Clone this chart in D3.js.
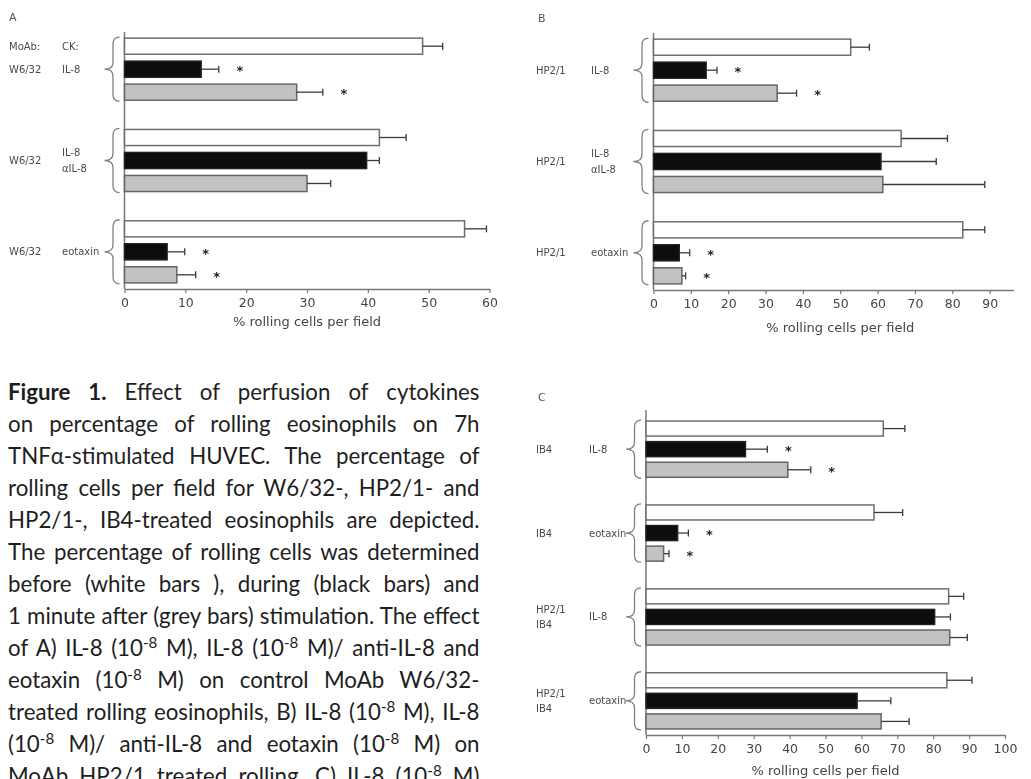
<!DOCTYPE html>
<html>
<head>
<meta charset="utf-8">
<script src="https://cdn.jsdelivr.net/npm/d3@7"></script>
<style>
  html, body { margin: 0; padding: 0; background: #fff; }
  svg { display: block; }
</style>
</head>
<body>
<svg id="fig" width="1031" height="779"></svg>
<script>
// ---------- data: % rolling eosinophils per field ----------
const seriesKeys = ["before", "during", "after"];

// Panel A – control MoAb W6/32
const aMoAb = [["W6/32"], ["W6/32"], ["W6/32"]];
const aStim = [["IL-8"], ["IL-8", "αIL-8"], ["eotaxin"]];
const aBefore = [49.0, 41.9, 55.9];
const aBeforeErr = [3.3, 4.4, 3.6];
const aDuring = [12.6, 39.8, 7.0];
const aDuringErr = [2.9, 2.1, 2.9];
const aAfter = [28.3, 30.0, 8.6];
const aAfterErr = [4.3, 3.9, 3.1];
const aDuringSig = [true, false, true];
const aAfterSig = [true, false, true];
const aTicks = [0, 10, 20, 30, 40, 50, 60];

// Panel B – HP2/1
const bMoAb = [["HP2/1"], ["HP2/1"], ["HP2/1"]];
const bStim = [["IL-8"], ["IL-8", "αIL-8"], ["eotaxin"]];
const bBefore = [52.8, 66.3, 82.8];
const bBeforeErr = [5.0, 12.4, 5.9];
const bDuring = [14.1, 60.9, 6.9];
const bDuringErr = [2.9, 14.8, 2.8];
const bAfter = [33.1, 61.4, 7.6];
const bAfterErr = [5.2, 27.3, 1.0];
const bDuringSig = [true, false, true];
const bAfterSig = [true, false, true];
const bTicks = [0, 10, 20, 30, 40, 50, 60, 70, 80, 90];

// Panel C – IB4 and HP2/1 + IB4
const cMoAb = [["IB4"], ["IB4"], ["HP2/1", "IB4"], ["HP2/1", "IB4"]];
const cStim = [["IL-8"], ["eotaxin"], ["IL-8"], ["eotaxin"]];
const cBefore = [66.1, 63.5, 84.3, 83.8];
const cBeforeErr = [6.0, 8.0, 4.2, 7.0];
const cDuring = [27.7, 8.8, 80.4, 58.8];
const cDuringErr = [6.1, 3.0, 4.4, 9.4];
const cAfter = [39.5, 4.9, 84.6, 65.5];
const cAfterErr = [6.4, 1.5, 4.9, 7.8];
const cDuringSig = [true, true, false, false];
const cAfterSig = [true, true, false, false];
const cTicks = [0, 10, 20, 30, 40, 50, 60, 70, 80, 90, 100];

const axisTitle = "% rolling cells per field";

// ---------- figure caption (justified block) ----------
const captionLines = [
  [{ t: "Figure 1.", b: true }, { t: " Effect of perfusion of cytokines" }],
  [{ t: "on percentage of rolling eosinophils on 7h" }],
  [{ t: "TNFα-stimulated HUVEC. The percentage of" }],
  [{ t: "rolling cells per field for W6/32-, HP2/1- and" }],
  [{ t: "HP2/1-, IB4-treated eosinophils are depicted." }],
  [{ t: "The percentage of rolling cells was determined" }],
  [{ t: "before (white bars ), during (black bars) and" }],
  [{ t: "1 minute after (grey bars) stimulation. The effect" }],
  [{ t: "of A) IL-8 (10" }, { t: "-8", sup: true }, { t: " M), IL-8 (10" }, { t: "-8", sup: true }, { t: " M)/ anti-IL-8 and" }],
  [{ t: "eotaxin (10" }, { t: "-8", sup: true }, { t: " M) on control MoAb W6/32-" }],
  [{ t: "treated rolling eosinophils, B) IL-8 (10" }, { t: "-8", sup: true }, { t: " M), IL-8" }],
  [{ t: "(10" }, { t: "-8", sup: true }, { t: " M)/ anti-IL-8 and eotaxin (10" }, { t: "-8", sup: true }, { t: " M) on" }],
  [{ t: "MoAb HP2/1 treated rolling. C) IL-8 (10" }, { t: "-8", sup: true }, { t: " M)" }]
];

// ---------- drawing ----------
const svg = d3.select("#fig");
const defs = svg.append("defs");
defs.append("filter").attr("id", "soft")
  .attr("x", "-5%").attr("y", "-5%").attr("width", "110%").attr("height", "110%")
  .append("feGaussianBlur").attr("stdDeviation", 0.75);
defs.append("clipPath").attr("id", "clipB")
  .append("rect").attr("x", 480).attr("y", 0).attr("width", 534).attr("height", 400);

const fills = { before: "#ffffff", during: "#0a0a0a", after: "#c2c2c2" };
const strokes = { before: "#6e6e6e", during: "#222", after: "#666" };
const LABEL_FONT = "DejaVu Sans, Liberation Sans, sans-serif";
const LABEL_INK = "#4a4a4a";

function buildGroups(moab, stim, vals, errs, sigD, sigA) {
  return moab.map((m, i) => ({
    id: "g" + i, moab: m, stim: stim[i],
    bars: [
      { key: "before", v: vals[0][i], e: errs[0][i], sig: false },
      { key: "during", v: vals[1][i], e: errs[1][i], sig: sigD[i] },
      { key: "after",  v: vals[2][i], e: errs[2][i], sig: sigA[i] }
    ]
  }));
}

function bracePath(xTip, xEnd, y0, y1) {
  const ym = (y0 + y1) / 2, xm = (xTip + xEnd) / 2 + 1;
  const r = 7;
  const p = d3.path();
  p.moveTo(xEnd, y0);
  p.quadraticCurveTo(xm, y0, xm, y0 + r);
  p.lineTo(xm, ym - r);
  p.quadraticCurveTo(xm, ym, xTip, ym);
  p.quadraticCurveTo(xm, ym, xm, ym + r);
  p.lineTo(xm, y1 - r);
  p.quadraticCurveTo(xm, y1, xEnd, y1);
  return p.toString();
}

function drawPanel(cfg) {
  const g = svg.append("g").attr("filter", "url(#soft)");
  const root = cfg.clip ? g.append("g").attr("clip-path", cfg.clip) : g;

  const x = d3.scaleLinear().domain([0, cfg.max]).range([cfg.x0, cfg.x1]);
  const y = d3.scaleBand().domain(cfg.groups.map(d => d.id))
    .range([cfg.yTop, cfg.yBot]).paddingInner(cfg.padG).paddingOuter(cfg.padO);
  const yi = d3.scaleBand().domain(seriesKeys).range([0, y.bandwidth()]).paddingInner(cfg.padB);

  // panel letter
  root.append("text").attr("x", cfg.letterX).attr("y", cfg.letterY)
    .attr("font-family", LABEL_FONT).attr("font-size", 11).attr("fill", "#555").text(cfg.letter);

  // x axis
  const ax = root.append("g").attr("transform", `translate(0,${cfg.axisY})`)
    .call(d3.axisBottom(x).tickValues(cfg.ticks).tickSize(4).tickSizeOuter(0).tickPadding(5));
  ax.select(".domain").attr("stroke", "#777").attr("stroke-width", 1.5);
  ax.selectAll(".tick line").attr("stroke", "#777").attr("stroke-width", 1.2);
  ax.selectAll(".tick text").attr("font-family", LABEL_FONT).attr("font-size", 12.5).attr("fill", "#444");

  root.append("text").attr("x", (cfg.x0 + cfg.x1) / 2).attr("y", cfg.axisY + cfg.titleOff)
    .attr("text-anchor", "middle").attr("font-family", LABEL_FONT).attr("font-size", 13)
    .attr("fill", "#444").text(axisTitle);

  // y axis line
  root.append("line").attr("x1", cfg.x0).attr("x2", cfg.x0)
    .attr("y1", cfg.yAxisTop).attr("y2", cfg.axisY)
    .attr("stroke", "#777").attr("stroke-width", 1.5);

  const grp = root.selectAll("g.grp").data(cfg.groups).join("g").attr("class", "grp")
    .attr("transform", d => `translate(0,${y(d.id)})`);

  // bars
  grp.selectAll("rect").data(d => d.bars).join("rect")
    .attr("x", x(0)).attr("y", b => yi(b.key))
    .attr("width", b => x(b.v) - x(0)).attr("height", yi.bandwidth())
    .attr("fill", b => fills[b.key]).attr("stroke", b => strokes[b.key]).attr("stroke-width", 1.5);

  // error bars
  const eb = grp.selectAll("g.err").data(d => d.bars).join("g").attr("class", "err")
    .attr("transform", b => `translate(0,${yi(b.key) + yi.bandwidth() / 2})`);
  eb.append("line").attr("x1", b => x(b.v)).attr("x2", b => x(b.v + b.e))
    .attr("y1", 0).attr("y2", 0).attr("stroke", "#3a3a3a").attr("stroke-width", 1.3);
  eb.append("line").attr("x1", b => x(b.v + b.e)).attr("x2", b => x(b.v + b.e))
    .attr("y1", -3.5).attr("y2", 3.5).attr("stroke", "#3a3a3a").attr("stroke-width", 1.3);

  // significance marks
  eb.filter(b => b.sig).append("text")
    .attr("x", b => x(b.v + b.e) + 21).attr("y", 6).attr("text-anchor", "middle")
    .attr("font-family", LABEL_FONT).attr("font-size", 13).attr("font-weight", 700)
    .attr("fill", "#222").text("*");

  // braces
  grp.append("path").attr("d", bracePath(cfg.x0 - 20, cfg.x0 - 5, -1, y.bandwidth() + 1))
    .attr("fill", "none").attr("stroke", "#808080").attr("stroke-width", 1.3);

  // group labels
  const mid = y.bandwidth() / 2;
  const labelSet = (sel, key, xpos, gap) => sel.each(function (d) {
    const lines = d[key];
    const n = lines.length;
    lines.forEach((t, k) => {
      d3.select(this).append("text").attr("x", xpos)
        .attr("y", mid + (k - (n - 1) / 2) * gap + 3.5)
        .attr("font-family", LABEL_FONT).attr("font-size", 10).attr("fill", LABEL_INK).text(t);
    });
  });
  labelSet(grp, "moab", cfg.col1, 15);
  labelSet(grp, "stim", cfg.col2, 16);

  if (cfg.header) {
    const hy = y(cfg.groups[0].id) + yi("before") + yi.bandwidth() / 2 + 3.5;
    root.append("text").attr("x", cfg.col1).attr("y", hy).attr("font-family", LABEL_FONT)
      .attr("font-size", 10).attr("fill", LABEL_INK).text(cfg.header[0]);
    root.append("text").attr("x", cfg.col2).attr("y", hy).attr("font-family", LABEL_FONT)
      .attr("font-size", 10).attr("fill", LABEL_INK).text(cfg.header[1]);
  }
}

drawPanel({
  letter: "A", letterX: 9, letterY: 21, header: ["MoAb:", "CK:"],
  groups: buildGroups(aMoAb, aStim, [aBefore, aDuring, aAfter], [aBeforeErr, aDuringErr, aAfterErr], aDuringSig, aAfterSig),
  max: 60, ticks: aTicks, x0: 124.5, x1: 489.5,
  yTop: 29, yBot: 292, padG: 0.32, padO: 0.1, padB: 0.3,
  axisY: 289, yAxisTop: 32, titleOff: 37, col1: 9, col2: 62
});

drawPanel({
  letter: "B", letterX: 538, letterY: 22, clip: "url(#clipB)",
  groups: buildGroups(bMoAb, bStim, [bBefore, bDuring, bAfter], [bBeforeErr, bDuringErr, bAfterErr], bDuringSig, bAfterSig),
  max: 100, ticks: bTicks, x0: 653.5, x1: 1027,
  yTop: 30, yBot: 293, padG: 0.32, padO: 0.1, padB: 0.3,
  axisY: 290, yAxisTop: 33, titleOff: 42, col1: 536, col2: 591
});

drawPanel({
  letter: "C", letterX: 538, letterY: 401,
  groups: buildGroups(cMoAb, cStim, [cBefore, cDuring, cAfter], [cBeforeErr, cDuringErr, cAfterErr], cDuringSig, cAfterSig),
  max: 100, ticks: cTicks, x0: 646, x1: 1005,
  yTop: 411, yBot: 739, padG: 0.33, padO: 0.12, padB: 0.27,
  axisY: 735, yAxisTop: 410, titleOff: 40, col1: 536, col2: 589
});

// caption
const cap = svg.append("g").attr("fill", "#1e1e1e").attr("font-family", "Lato, 'Open Sans', sans-serif");
const capLeft = 8, capRight = 479.5, capTop = 400, capLead = 32;
const capWidth = capRight - capLeft;

function setLine(t, segs, size) {
  t.selectAll("tspan").remove();
  t.attr("font-size", size);
  let raised = false;
  segs.forEach(s => {
    const ts = t.append("tspan").text(s.t);
    if (s.b) ts.attr("font-weight", 700);
    if (s.sup) { ts.attr("font-size", size * 0.68).attr("dy", -size * 0.38); raised = true; }
    else if (raised) { ts.attr("dy", size * 0.38); raised = false; }
  });
  return t.node().getComputedTextLength();
}

// pick a face size so the longest line still fits the column at natural spacing
const probe = cap.append("text");
const widest = d3.max(captionLines, segs => setLine(probe, segs, 20));
probe.remove();
const capSize = 20 * (capWidth - 3) / widest;

captionLines.forEach((segs, i) => {
  const t = cap.append("text").attr("x", capLeft).attr("y", capTop + i * capLead);
  const natural = setLine(t, segs, capSize);
  const spaces = segs.map(s => s.t).join("").split(" ").length - 1;
  if (spaces > 0) t.attr("word-spacing", (capWidth - natural) / spaces);
});
</script>
</body>
</html>
